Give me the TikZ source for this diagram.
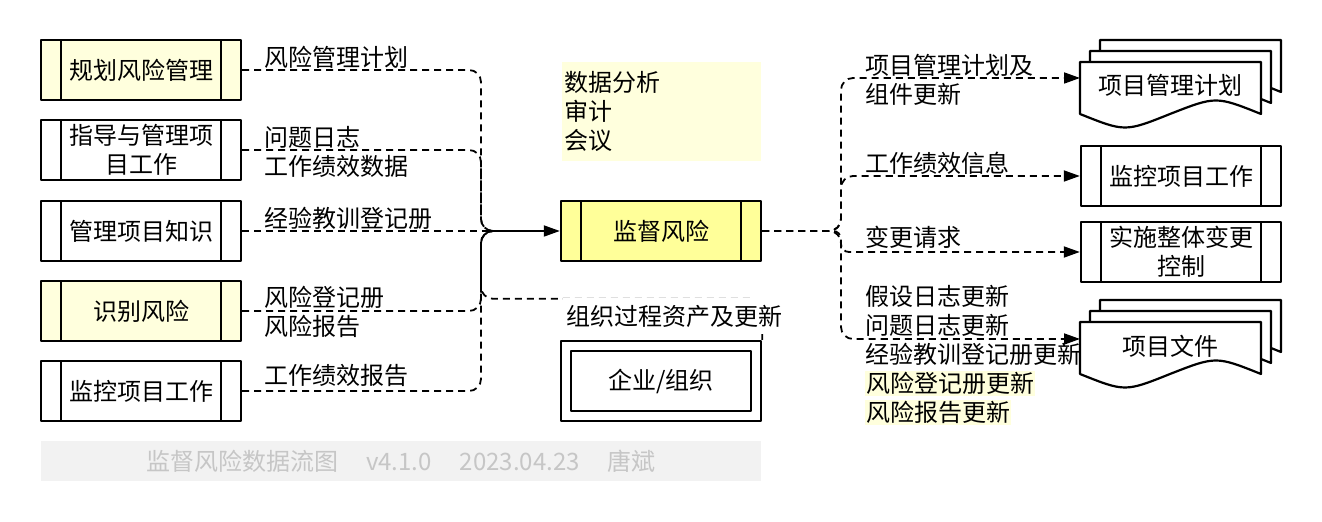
\documentclass[tikz,border=0pt]{standalone}
\usepackage{fontspec}
\setmainfont{Noto Sans CJK SC}
\usepackage{tikz}
\usetikzlibrary{calc, arrows.meta}
\definecolor{cream}{HTML}{FFFFDD}
\definecolor{lemon}{HTML}{FFFF99}
\newcommand{\docsheet}[2]{\draw[line width=1.1pt, fill=white, shift={(#1,#2)}] (0,0) -- (181,0) -- (181,52) .. controls (136,34) .. (90,52) .. controls (45,70) .. (0,52) -- cycle;}
\newcommand{\hlbox}[1]{{\setlength{\fboxsep}{0.5pt}\colorbox{cream}{#1}}}

\begin{document}
\begin{tikzpicture}[x=0.5pt, y=-0.5pt, line join=round,
            every node/.style={font=\fontsize{12pt}{14.5pt}\selectfont},
            proc/.style={draw, line width=1.2pt, minimum width=100pt, minimum height=30pt, inner sep=1pt, align=center,
                path picture={\draw[line width=1.2pt] ([xshift=10pt]path picture bounding box.north west) -- ([xshift=10pt]path picture bounding box.south west)
                    ([xshift=-10pt]path picture bounding box.north east) -- ([xshift=-10pt]path picture bounding box.south east);}},
            lbl/.style={anchor=west, inner sep=0pt, align=left},
            flow/.style={line width=0.9pt, dash pattern=on 3.5pt off 2.5pt, rounded corners=6pt},
            tip/.style={-{Triangle[length=8pt, width=5.5pt]}}]
            \useasboundingbox (0,0) rectangle (1322,522);
            \node[proc, fill=cream] (P1) at (141,70) {规划风险管理};
            \node[proc] (P2) at (141,150) {指导与管理项\\目工作};
            \node[proc] (P3) at (141,231) {管理项目知识};
            \node[proc, fill=cream] (P4) at (141,311) {识别风险};
            \node[proc] (P5) at (141,391) {监控项目工作};
            \node[proc, fill=lemon] (M) at (661,231) {监督风险};
            \node[draw, line width=1.2pt, minimum width=100pt, minimum height=40pt,
                path picture={\draw[line width=1.2pt] ([shift={(5pt,-5pt)}]path picture bounding box.north west) rectangle ([shift={(-5pt,5pt)}]path picture bounding box.south east);}] (E) at (661,381) {企业/组织};
            \node[fill=cream, minimum width=99.5pt, minimum height=49.5pt, text width=97pt, inner sep=1pt, align=left] (T) at (661.5,111.5) {数据分析\\审计\\会议};
            \node[proc] (W) at (1181,176) {监控项目工作};
            \node[proc] (C) at (1181,252) {实施整体变更\\控制};
            \node[lbl] (a1) at (264,57) {风险管理计划};
            \node[lbl] (a2) at (264,152) {问题日志\\工作绩效数据};
            \node[lbl] (a3) at (264,218) {经验教训登记册};
            \node[lbl] (a4) at (264,311.5) {风险登记册\\风险报告};
            \node[lbl] (a5) at (264,375) {工作绩效报告};
            \node[lbl] (b1) at (865,79.5) {项目管理计划及\\组件更新};
            \node[lbl] (b2) at (865,163) {工作绩效信息};
            \node[lbl] (b3) at (865,237) {变更请求};
            \node[lbl] (b4) at (865,355) {假设日志更新\\问题日志更新\\经验教训登记册更新\\\hlbox{风险登记册更新}\\\hlbox{风险报告更新}};
            \docsheet{1100}{40} \docsheet{1090}{51} \docsheet{1080}{62}
            \node[outer sep=0pt, minimum width=90.5pt] (PMP) at (1170.5,85) {项目管理计划};
            \docsheet{1100}{300} \docsheet{1090}{311} \docsheet{1080}{322}
            \node[outer sep=0pt, minimum width=90.5pt] (PD) at (1170.5,346) {项目文件};
            \coordinate (jl) at (481,231);
            \coordinate (jm) at (495,231);
            \coordinate (jr) at (841,231);
            \foreach \p in {P1,P2,P4,P5} \draw[flow] (\p.east) -| (jl) -- (jm);
            \draw[flow] (P3.east) -- (jm);
            \draw[flow] (E.north east) -- ++(0,-41) -| (jl) -- (jm);
            \draw[line width=0.9pt, tip] (jm) -- (M.west);
            \draw[flow, tip] (M.east) -- (jr) |- ([yshift=3.5pt]PMP.west);
            \draw[flow, tip] (M.east) -- (jr) |- (W.west);
            \draw[flow, tip, rounded corners=4pt] (M.east) -- (jr) |- (C.west);
            \draw[flow, tip] (M.east) -- (jr) |- ([yshift=3.5pt]PD.west);
            \node[lbl, fill=white, inner xsep=1.5pt, inner ysep=3.5pt] (a6) at (563,316) {组织过程资产及更新};
            \node[fill=gray!10, minimum width=360pt, minimum height=20pt, text=gray!45] (F) at (401,461) {监督风险数据流图\hspace{14pt}v4.1.0\hspace{14pt}2023.04.23\hspace{14pt}唐斌};
        \end{tikzpicture}
\end{document}
